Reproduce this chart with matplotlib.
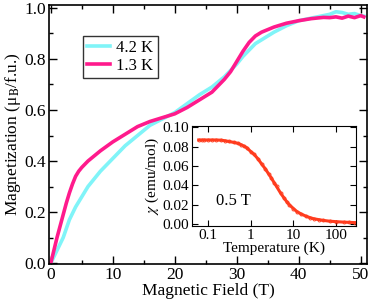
import numpy as np
import matplotlib
matplotlib.use("Agg")
import matplotlib.pyplot as plt
from matplotlib.ticker import MultipleLocator, LogLocator, NullFormatter

plt.rcParams['font.family'] = ['Liberation Serif', 'DejaVu Serif']
plt.rcParams['mathtext.fontset'] = 'stix'

# magnetization curves
field = [0, 0.5, 1, 1.5, 2, 2.5, 3, 3.5, 4, 4.5, 5, 6, 7, 8, 10, 12, 14, 16,
         18, 20, 22, 24, 26, 27, 28, 29, 30, 31, 32, 33, 34, 36, 38, 40, 42,
         44, 45, 46, 47, 48, 49, 50, 50.5]
m_13K = [0, 0.05, 0.10, 0.145, 0.19, 0.235, 0.275, 0.31, 0.34, 0.36, 0.375,
         0.40, 0.42, 0.44, 0.475, 0.505, 0.535, 0.555, 0.57, 0.585, 0.61,
         0.64, 0.67, 0.695, 0.72, 0.75, 0.79, 0.83, 0.865, 0.89, 0.905, 0.925,
         0.94, 0.95, 0.958, 0.963, 0.962, 0.965, 0.96, 0.968, 0.962, 0.97,
         0.965]
m_42K = [0, 0.025, 0.05, 0.075, 0.10, 0.135, 0.17, 0.195, 0.22, 0.24, 0.26,
         0.30, 0.33, 0.36, 0.41, 0.46, 0.50, 0.54, 0.565, 0.59, 0.625, 0.66,
         0.69, 0.71, 0.73, 0.755, 0.78, 0.81, 0.835, 0.86, 0.875, 0.905, 0.93,
         0.95, 0.96, 0.97, 0.975, 0.985, 0.982, 0.975, 0.978, 0.97, 0.968]

# susceptibility at 0.5 T (inset)
temp = [0.06, 0.07, 0.08, 0.1, 0.12, 0.15, 0.2, 0.25, 0.3, 0.4, 0.5, 0.6, 0.7,
        0.8, 1.0, 1.2, 1.5, 1.8, 2.2, 2.6, 3.0, 3.5, 4.0, 5.0, 6.0, 7.0, 8.0,
        10, 12, 15, 20, 25, 30, 40, 50, 70, 100, 150, 200, 280]
chi = [0.087, 0.087, 0.087, 0.087, 0.087, 0.087, 0.0868, 0.0862, 0.0855,
       0.0845, 0.0835, 0.082, 0.0805, 0.079, 0.075, 0.072, 0.067, 0.062,
       0.057, 0.052, 0.048, 0.043, 0.039, 0.032, 0.027, 0.023, 0.020, 0.016,
       0.013, 0.0105, 0.008, 0.0065, 0.0055, 0.0045, 0.0038, 0.003, 0.0025,
       0.002, 0.0018, 0.0015]

fig = plt.figure(figsize=(3.68, 3.05), dpi=100)
ax = fig.add_axes([0.133, 0.134, 0.864, 0.850])

ax.plot(field, m_42K, color='#80f4f8', lw=2.6, label='4.2 K')
ax.plot(field, m_13K, color='#ff1a8c', lw=2.6, label='1.3 K')

ax.set_xlim(-0.3, 51)
ax.set_ylim(-0.004, 1.012)
ax.xaxis.set_major_locator(MultipleLocator(10))
ax.xaxis.set_minor_locator(MultipleLocator(5))
ax.yaxis.set_major_locator(MultipleLocator(0.2))
ax.yaxis.set_minor_locator(MultipleLocator(0.1))
ax.yaxis.set_major_formatter(matplotlib.ticker.FormatStrFormatter('%.1f'))
ax.tick_params(which='both', direction='in', top=True, right=True,
               labelsize=12.5, width=1, pad=2)
ax.tick_params(which='major', length=6)
ax.tick_params(which='minor', length=3)
for s in ax.spines.values():
    s.set_linewidth(1.2)
ax.set_xlabel('Magnetic Field (T)', fontsize=12.5, labelpad=0)
ax.set_ylabel('Magnetization (\u03bc$_{\\rm B}$/f.u.)', fontsize=12.5,
              labelpad=1)

leg = ax.legend(loc='upper left', bbox_to_anchor=(0.107, 0.880), fontsize=12,
                frameon=True, fancybox=False, handlelength=1.4,
                handletextpad=0.35, borderpad=0.25, labelspacing=0.1,
                borderaxespad=0)
leg.get_frame().set_edgecolor('black')
leg.get_frame().set_linewidth(1.0)

ins = fig.add_axes([0.522, 0.259, 0.445, 0.328])
ins.plot(temp, chi, color='#ff3c1e', lw=2.2, marker='o', ms=2.2, mfc='none',
         mew=0.6)
ins.set_xscale('log')
ins.set_xlim(0.042, 290)
ins.set_ylim(-0.002, 0.1015)
ins.yaxis.set_major_locator(MultipleLocator(0.02))
ins.yaxis.set_major_formatter(matplotlib.ticker.FormatStrFormatter('%.2f'))
ins.xaxis.set_minor_locator(LogLocator(base=10, subs=np.arange(2, 10)))
ins.xaxis.set_minor_formatter(NullFormatter())
ins.set_xticks([0.1, 1, 10, 100])
ins.set_xticklabels(['0.1', '1', '10', '100'])
ins.tick_params(which='both', direction='in', top=True, right=True,
                labelsize=11, pad=2)
ins.tick_params(which='major', length=4)
ins.tick_params(which='minor', length=2)
ins.set_xlabel('Temperature (K)', fontsize=11, labelpad=0)
ins.set_ylabel(r'$\chi$ (emu/mol)', fontsize=11, labelpad=1)
ins.text(0.146, 0.21, '0.5 T', transform=ins.transAxes, fontsize=12)

fig.savefig('out.png', dpi=100)
